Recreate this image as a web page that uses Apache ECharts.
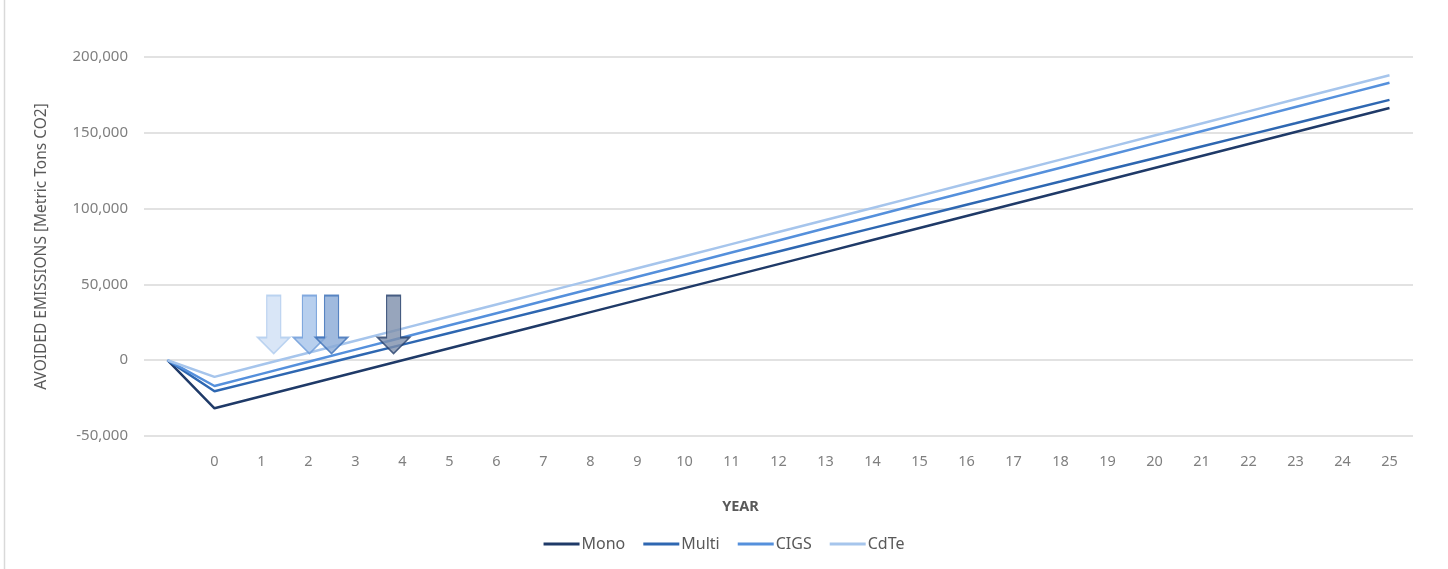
<!DOCTYPE html>
<html>
<head>
<meta charset="utf-8">
<script src="https://cdn.jsdelivr.net/npm/echarts@6/dist/echarts.min.js"></script>
<style>
html,body{margin:0;padding:0;background:#fff;}
#chart{width:1448px;height:569px;}
</style>
</head>
<body>
<div id="chart"></div>
<script>
// ---- Data ----
var categories = ['', '0','1','2','3','4','5','6','7','8','9','10','11','12','13','14','15','16','17','18','19','20','21','22','23','24','25'];
var seriesNames = ['Mono', 'Multi', 'CIGS', 'CdTe'];
var mono  = [0, -31700, -23780, -15850, -7930, 0, 7920, 15840, 23770, 31690, 39620, 47540, 55460, 63390, 71310, 79240, 87160, 95080, 103010, 110930, 118860, 126780, 134700, 142630, 150550, 158480, 166400];
var multi = [0, -20500, -12810, -5120, 2560, 10250, 17940, 25630, 33320, 41000, 48690, 56380, 64070, 71760, 79440, 87130, 94820, 102510, 110200, 117880, 125570, 133260, 140950, 148640, 156320, 164010, 171700];
var cigs  = [0, -17000, -9000, -1000, 7000, 15000, 23000, 31000, 39000, 47000, 55000, 63000, 71000, 79000, 87000, 95000, 103000, 111000, 119000, 127000, 135000, 143000, 151000, 159000, 167000, 175000, 183000];
var cdte  = [0, -11000, -3040, 4920, 12880, 20840, 28800, 36760, 44720, 52680, 60640, 68600, 76560, 84520, 92480, 100440, 108400, 116360, 124320, 132280, 140240, 148200, 156160, 164120, 172080, 180040, 188000];
// payback arrows: [year position, value at arrow centre]
var arrowCdTe  = [1.26, 23500];
var arrowCIGS  = [2.02, 23500];
var arrowMulti = [2.49, 23500];
var arrowMono  = [3.81, 23500];
var yTicks = {min: -50000, max: 200000, interval: 50000};

// ---- Styles ----
var lineColors = {Mono: '#1f3a68', Multi: '#2e67b1', CIGS: '#5590dc', CdTe: '#a6c5ec'};
var arrowPath = 'path://M9,0 L23,0 L23,42 L32,42 L16,58 L0,42 L9,42 Z';
var font = 'Noto Sans';

function lineSeries(name, data) {
  return {
    name: name, type: 'line', data: data, showSymbol: false, symbol: 'none',
    lineStyle: {color: lineColors[name], width: 2.5}, itemStyle: {color: lineColors[name]},
    z: 2, silent: true, animation: false
  };
}
function arrowSeries(pt, fill, border) {
  return {
    type: 'scatter', xAxisIndex: 1, data: [pt], symbol: arrowPath, symbolSize: [32, 58],
    symbolKeepAspect: false,
    itemStyle: {color: fill, borderColor: border, borderWidth: 1.5, opacity: 0.8},
    z: 3, silent: true, animation: false
  };
}

var chart = echarts.init(document.getElementById('chart'), null, {renderer: 'canvas'});
chart.setOption({
  animation: false,
  textStyle: {fontFamily: font},
  grid: {left: 144, right: 35, top: 57, bottom: 133, containLabel: false},
  legend: {
    data: seriesNames, left: 'center', top: 531, icon: 'rect', itemWidth: 36, itemHeight: 3,
    itemGap: 18, textStyle: {color: '#595959', fontSize: 16, fontFamily: font, padding: [0,0,0,-3]}
  },
  graphic: [{
    type: 'line', shape: {x1: 4.5, y1: 0, x2: 4.5, y2: 569},
    style: {stroke: '#d9d9d9', lineWidth: 1.5}, silent: true
  }],
  xAxis: [{
    type: 'category', data: categories, boundaryGap: true,
    axisLine: {show: false}, axisTick: {show: false}, splitLine: {show: false},
    axisLabel: {color: '#7f7f7f', fontSize: 14.5, margin: 18, interval: 0},
    name: 'YEAR', nameLocation: 'middle', nameGap: 63,
    nameTextStyle: {color: '#595959', fontSize: 14.5, fontWeight: 'bold', padding: [0, 76, 0, 0]}
  }, {
    type: 'value', min: -1.5, max: 25.5, show: false
  }],
  yAxis: {
    type: 'value', min: yTicks.min, max: yTicks.max, interval: yTicks.interval,
    axisLine: {show: false}, axisTick: {show: false},
    splitLine: {lineStyle: {color: '#d9d9d9', width: 1.5}},
    axisLabel: {color: '#7f7f7f', fontSize: 15, margin: 16,
      formatter: function (v) { return v.toLocaleString('en-US'); }},
    name: 'AVOIDED EMISSIONS [Metric Tons CO2]', nameLocation: 'middle', nameGap: 94,
    nameTextStyle: {color: '#595959', fontSize: 15.5}
  },
  series: [
    lineSeries('Mono', mono),
    lineSeries('Multi', multi),
    lineSeries('CIGS', cigs),
    lineSeries('CdTe', cdte),
    arrowSeries(arrowCdTe, '#cfe0f5', '#aecbee'),
    arrowSeries(arrowCIGS, '#a5c3ea', '#6a9ad8'),
    arrowSeries(arrowMulti, '#88a9d6', '#3a6eb6'),
    arrowSeries(arrowMono, '#7d8eab', '#243f6a')
  ]
});
</script>
</body>
</html>
